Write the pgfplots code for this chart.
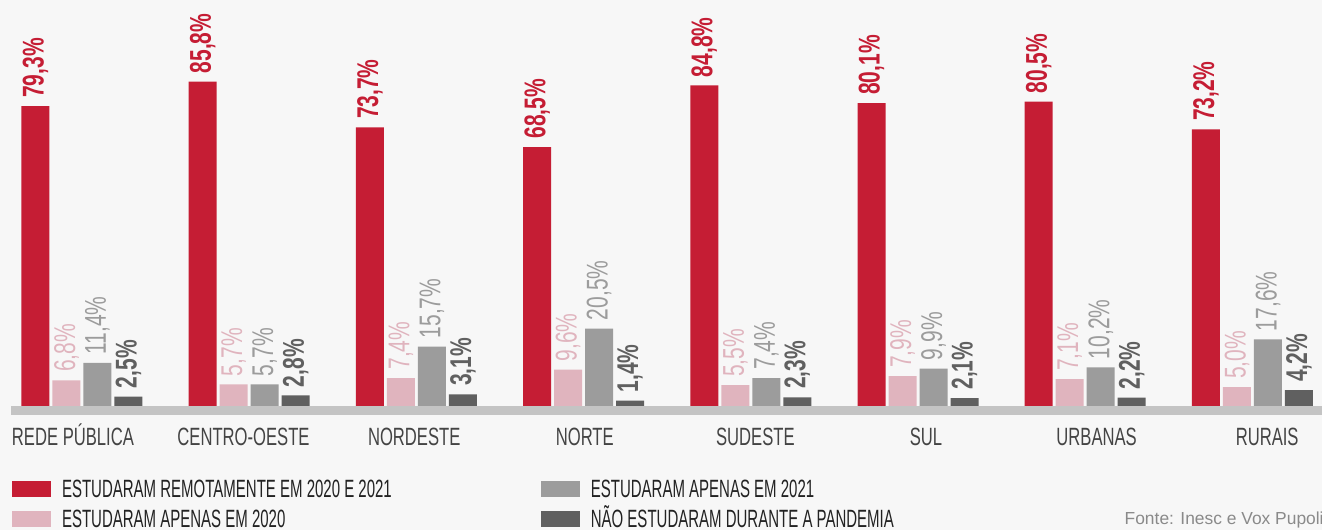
\documentclass[border=0pt]{standalone}
\usepackage{fontspec}
\setmainfont{Liberation Sans}[FakeStretch=0.665]
\newfontfamily\valfont{Liberation Sans}[FakeStretch=0.70]
\newfontfamily\lgfont{Liberation Sans}[FakeStretch=0.60]
\newfontfamily\srcfont{Liberation Sans}
\usepackage{pgfplots}
\pgfplotsset{compat=1.18}

\definecolor{cRed}{HTML}{C51D34}
\definecolor{cPink}{HTML}{E0B4BE}
\definecolor{cGray}{HTML}{9C9C9C}
\definecolor{cDark}{HTML}{606060}
\definecolor{cBase}{HTML}{C4C4C4}
\definecolor{cBg}{HTML}{F7F7F7}
\definecolor{cCat}{HTML}{444444}
\definecolor{cLeg}{HTML}{222222}
\definecolor{cSrc}{HTML}{8A8A8A}

% x = group index, y = percentage
\pgfplotstableread{
x remoto apenas2020 apenas2021 nao
0 79.3 6.8 11.4 2.5
1 85.8 5.7 5.7 2.8
2 73.7 7.4 15.7 3.1
3 68.5 9.6 20.5 1.4
4 84.8 5.5 7.4 2.3
5 80.1 7.9 9.9 2.1
6 80.5 7.1 10.2 2.2
7 73.2 5.0 17.6 4.2
}\dados

\begin{document}
\begin{tikzpicture}
\fill[cBg] (0,0) rectangle (661pt,265pt);
\path[use as bounding box] (0,0) rectangle (661pt,265pt);
\begin{axis}[
  at={(0pt,62pt)}, anchor=south west,
  scale only axis, width=661pt, height=203pt,
  xmin=-0.4904, xmax=7.416, ymin=0, ymax=107.4,
  clip=false,
  axis line style={draw=none},
  major tick length=0pt,
  ytick=\empty,
  xtick={-0.054,0.966,1.987,3.007,4.027,5.048,6.068,7.088},
  xticklabels={REDE PÚBLICA,CENTRO-OESTE,NORDESTE,NORTE,SUDESTE,SUL,URBANAS,RURAIS},
  xticklabel style={font=\fontsize{12.5}{14}\selectfont, text=cCat, anchor=base, yshift=-19.5pt},
  ybar=1.5pt, bar width=14pt,
  legend image code/.code={\fill[#1] (0pt,-4pt) rectangle (19.5pt,4pt);},
  legend columns=2, transpose legend,
  legend cell align=left,
  legend style={at={(axis description cs:0.0091,-0.1847)}, anchor=north west,
    draw=none, fill=none, inner sep=0pt, outer sep=0pt,
    font=\lgfont\fontsize{12.5}{14}\selectfont, text=cLeg,
    nodes={inner sep=0pt, text height=8.5pt, text depth=0pt},
    row sep=6.25pt,
    /tikz/every odd column/.append style={column sep=5.5pt},
    /tikz/every even column/.append style={column sep=74.5pt}},
  nodes near coords={\pgfmathprintnumber[fixed,fixed zerofill,precision=1,use comma,assume math mode=true]{\pgfplotspointmeta}\%},
  every node near coord/.append style={rotate=90, anchor=west, inner ysep=0pt, inner xsep=4pt},
]
\addplot[fill=cRed, draw=none, every node near coord/.append style={text=cRed, font=\valfont\bfseries\fontsize{15}{16}\selectfont}] table[x=x,y=remoto] {\dados};
\addplot[fill=cPink, draw=none, every node near coord/.append style={text=cPink, font=\valfont\fontsize{15}{16}\selectfont}] table[x=x,y=apenas2020] {\dados};
\addplot[fill=cGray, draw=none, every node near coord/.append style={text=cGray, font=\valfont\fontsize{15}{16}\selectfont}] table[x=x,y=apenas2021] {\dados};
\addplot[fill=cDark, draw=none, every node near coord/.append style={text=cDark, font=\valfont\bfseries\fontsize{15}{16}\selectfont}] table[x=x,y=nao] {\dados};
\legend{ESTUDARAM REMOTAMENTE EM 2020 E 2021,ESTUDARAM APENAS EM 2020,ESTUDARAM APENAS EM 2021,NÃO ESTUDARAM DURANTE A PANDEMIA}
\fill[cBase] (axis cs:-0.4246,0) rectangle (axis cs:7.416,-2.4);
\end{axis}
\node[anchor=base east, inner sep=0pt, font=\srcfont\fontsize{8.7}{10}\selectfont, text=cSrc] at (662pt,3pt) {Fonte: Inesc e Vox Pupoli};
\end{tikzpicture}
\end{document}
